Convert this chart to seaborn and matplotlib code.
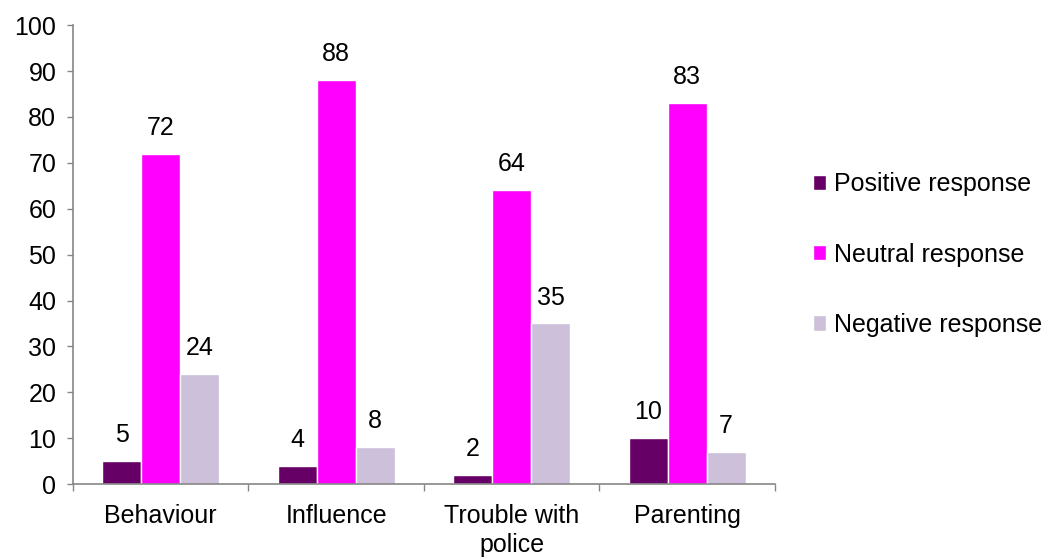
import matplotlib
matplotlib.use("Agg")
import matplotlib.pyplot as plt
import seaborn as sns
import pandas as pd
import numpy as np
from matplotlib.ticker import FixedLocator

categories = ["Behaviour", "Influence", "Trouble with\npolice", "Parenting"]
series = ["Positive response", "Neutral response", "Negative response"]
positive = [5, 4, 2, 10]
neutral = [72, 88, 64, 83]
negative = [24, 8, 35, 7]
colors = ["#660066", "#FF00FF", "#CCC0DA"]

rows = []
for s, vals in zip(series, [positive, neutral, negative]):
    for c, v in zip(categories, vals):
        rows.append({"category": c, "series": s, "value": v})
df = pd.DataFrame(rows)

sns.set_style("white")
plt.rcParams["font.family"] = ["Liberation Sans", "DejaVu Sans"]
plt.rcParams["text.color"] = "black"
plt.rcParams["xtick.labelcolor"] = "black"
plt.rcParams["ytick.labelcolor"] = "black"

FS = 18
fig = plt.figure(figsize=(10.57, 5.59), dpi=100)
ax = fig.add_axes([0.069, 0.134, 0.664, 0.821])
sns.barplot(data=df, x="category", y="value", hue="series", order=categories,
            hue_order=series, palette=colors, width=0.667, saturation=1,
            ax=ax, legend=True)

for cont in ax.containers:
    ax.bar_label(cont, padding=10, fontsize=FS, color="black")

ax.set_ylim(0, 100)
ax.set_xlim(-0.5, 3.5)
ax.set_yticks(np.arange(0, 101, 10))
ax.set_xlabel("")
ax.set_ylabel("")
ax.tick_params(axis="y", labelsize=FS, length=4, width=1, color="#868686", left=True, pad=8,
               labelcolor="black")
ax.tick_params(axis="x", labelsize=FS, length=0, pad=14, labelcolor="black")
for lbl in ax.get_xticklabels():
    lbl.set_linespacing(1.3)
ax.xaxis.set_minor_locator(FixedLocator([-0.5, 0.5, 1.5, 2.5, 3.5]))
ax.tick_params(axis="x", which="minor", length=5, width=1, color="#868686", bottom=True)
for side in ["top", "right"]:
    ax.spines[side].set_visible(False)
for side in ["left", "bottom"]:
    ax.spines[side].set_color("#868686")
    ax.spines[side].set_linewidth(1.2)

handles, labels = ax.get_legend_handles_labels()
leg = ax.legend(handles, labels, loc="center left", bbox_to_anchor=(1.054, 0.50),
                frameon=False, fontsize=FS, handlelength=0.55, handleheight=0.55,
                handletextpad=0.3, labelspacing=1.85, borderaxespad=0, borderpad=0)
for t in leg.get_texts():
    t.set_color("black")

fig.savefig("out.png", dpi=100)
